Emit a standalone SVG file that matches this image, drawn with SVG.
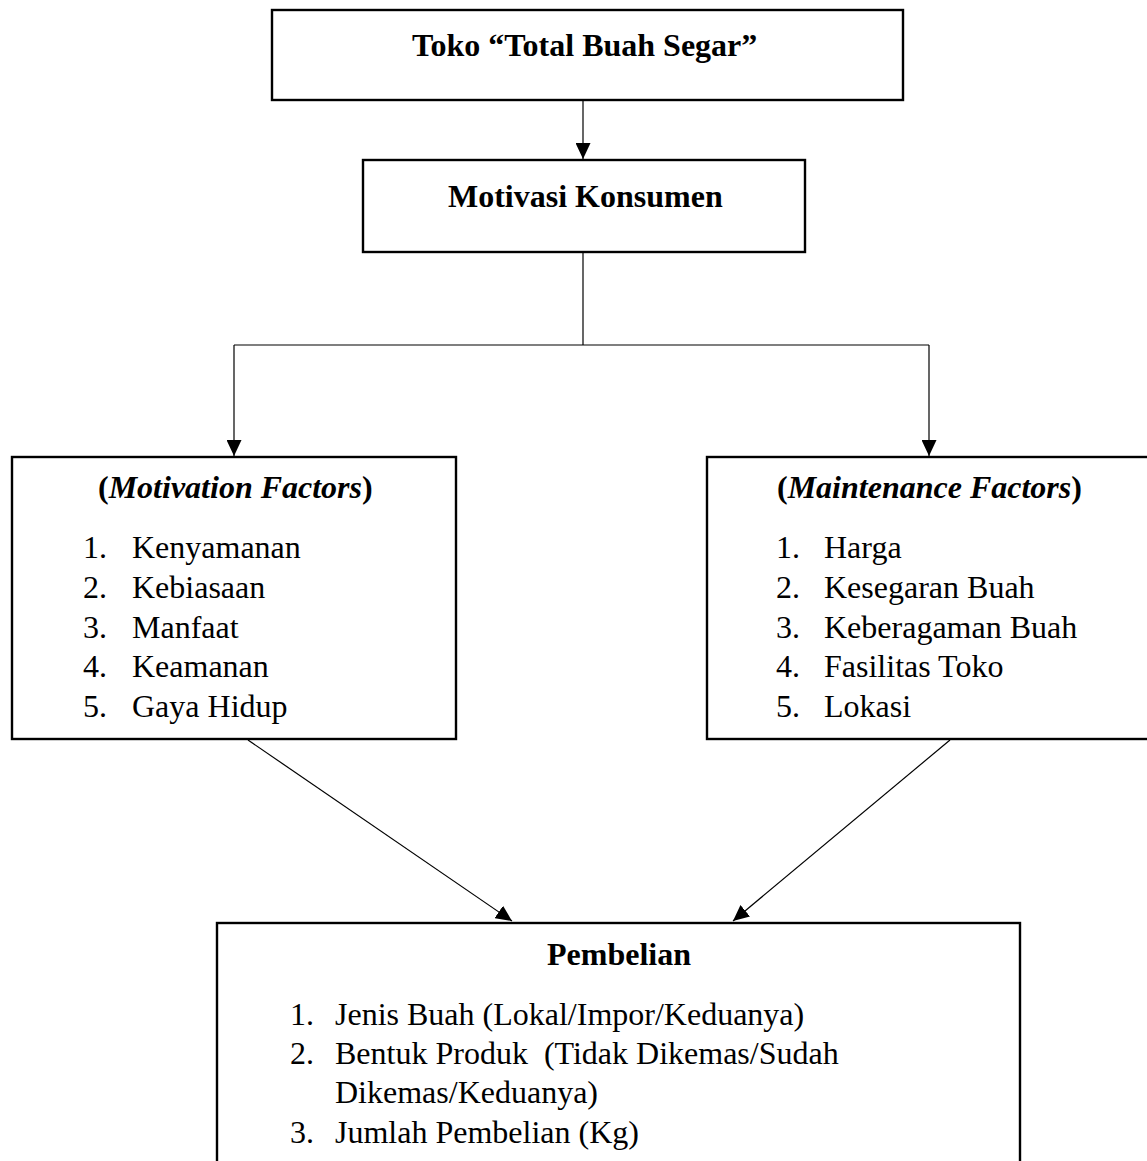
<svg xmlns="http://www.w3.org/2000/svg" width="1147" height="1161" viewBox="0 0 1147 1161">
<defs>
<style>
.box{fill:#fff;stroke:#000;stroke-width:2.4}
.con{fill:none;stroke:#000;stroke-width:1.2}
.t{font-family:"Liberation Serif","Times New Roman",serif;font-size:32px;fill:#000}
.b{font-weight:bold}
.i{font-style:italic}
</style>
<marker id="arr" markerUnits="userSpaceOnUse" markerWidth="16" markerHeight="15" viewBox="0 0 16 15" refX="16" refY="7.5" orient="auto">
<path d="M0,0 L16,7.5 L0,15 Z" fill="#000"/>
</marker>
</defs>
<g id="connectors">
<line class="con" x1="583" y1="101" x2="583" y2="159" marker-end="url(#arr)"/>
<polyline class="con" points="583,253 583,345"/>
<polyline class="con" points="234,345 929,345"/>
<line class="con" x1="234" y1="345" x2="234" y2="456" marker-end="url(#arr)"/>
<line class="con" x1="929" y1="345" x2="929" y2="456" marker-end="url(#arr)"/>
<line class="con" x1="248" y1="740" x2="512" y2="921" marker-end="url(#arr)"/>
<line class="con" x1="950" y1="740" x2="733" y2="921" marker-end="url(#arr)"/>
</g>
<g id="node-toko">
<rect class="box" x="272" y="10" width="631" height="90"/>
<text class="t b" x="412" y="56">Toko “Total Buah Segar”</text>
</g>
<g id="node-motivasi">
<rect class="box" x="363" y="160" width="442" height="92"/>
<text class="t b" x="448" y="207">Motivasi Konsumen</text>
</g>
<g id="node-motivation-factors">
<rect class="box" x="12" y="457" width="444" height="282"/>
<text class="t b" x="98" y="498">(<tspan class="i">Motivation Factors</tspan>)</text>
<text class="t" x="83" y="558">1.</text><text class="t" x="132" y="558">Kenyamanan</text>
<text class="t" x="83" y="598">2.</text><text class="t" x="132" y="598">Kebiasaan</text>
<text class="t" x="83" y="638">3.</text><text class="t" x="132" y="638">Manfaat</text>
<text class="t" x="83" y="677">4.</text><text class="t" x="132" y="677">Keamanan</text>
<text class="t" x="83" y="717">5.</text><text class="t" x="132" y="717">Gaya Hidup</text>
</g>
<g id="node-maintenance-factors">
<rect class="box" x="707" y="457" width="446" height="282"/>
<text class="t b" x="777" y="498">(<tspan class="i">Maintenance Factors</tspan>)</text>
<text class="t" x="776" y="558">1.</text><text class="t" x="824" y="558">Harga</text>
<text class="t" x="776" y="598">2.</text><text class="t" x="824" y="598">Kesegaran Buah</text>
<text class="t" x="776" y="638">3.</text><text class="t" x="824" y="638">Keberagaman Buah</text>
<text class="t" x="776" y="677">4.</text><text class="t" x="824" y="677">Fasilitas Toko</text>
<text class="t" x="776" y="717">5.</text><text class="t" x="824" y="717">Lokasi</text>
</g>
<g id="node-pembelian">
<rect class="box" x="217" y="923" width="803" height="260"/>
<text class="t b" x="547" y="965">Pembelian</text>
<text class="t" x="290" y="1025">1.</text><text class="t" x="335" y="1025">Jenis Buah (Lokal/Impor/Keduanya)</text>
<text class="t" x="290" y="1064">2.</text><text class="t" x="335" y="1064" style="white-space:pre">Bentuk Produk  (Tidak Dikemas/Sudah</text>
<text class="t" x="335" y="1103">Dikemas/Keduanya)</text>
<text class="t" x="290" y="1143">3.</text><text class="t" x="335" y="1143">Jumlah Pembelian (Kg)</text>
</g>
</svg>
